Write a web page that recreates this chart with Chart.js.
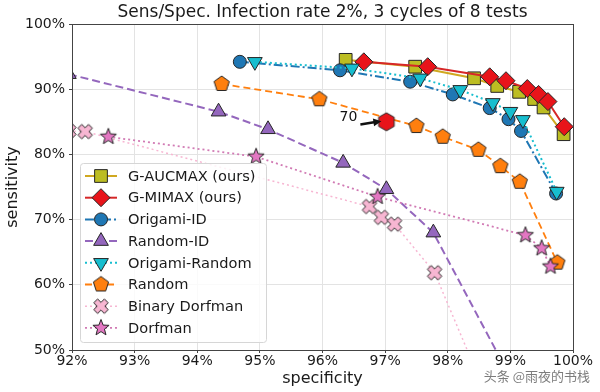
<!DOCTYPE html>
<html><head><meta charset="UTF-8"><title>Sens/Spec</title>
<script src="https://cdn.jsdelivr.net/npm/chart.js@4"></script>
<style>
body { margin: 0; background: #fff; }
#wrap { width: 600px; height: 392px; }
</style>
</head>
<body>
<div id="wrap"><canvas id="c" width="600" height="392"></canvas></div>
<script>
// x = specificity (%), y = sensitivity (%)
const aucmaxSpec = [96.37, 97.48, 98.42, 98.79, 99.14, 99.38, 99.53, 99.85];
const aucmaxSens = [94.5, 93.45, 91.67, 90.5, 89.6, 88.5, 87.2, 83.1];
const mimaxSpec = [96.66, 97.68, 98.67, 98.93, 99.27, 99.45, 99.6, 99.86];
const mimaxSens = [94.2, 93.45, 91.9, 91.3, 90.1, 89.2, 88.1, 84.25];
const origamiIdSpec = [94.68, 96.28, 97.4, 98.08, 98.67, 98.97, 99.17, 99.73];
const origamiIdSens = [94.2, 92.9, 91.15, 89.2, 87.1, 85.4, 83.6, 74.0];
const randomIdSpec = [91.95, 94.34, 95.13, 96.33, 97.02, 97.77, 99.0];
const randomIdSens = [92.3, 86.55, 83.85, 78.7, 74.65, 68.0, 45.8];
const origamiRandSpec = [94.92, 96.47, 97.56, 98.2, 98.72, 99.0, 99.2, 99.74];
const origamiRandSens = [94.2, 93.2, 91.67, 89.9, 87.9, 86.55, 85.3, 74.3];
const randomSpec = [94.39, 95.95, 97.5, 97.92, 98.49, 98.84, 99.15, 99.75];
const randomSens = [90.8, 88.45, 84.35, 82.7, 80.7, 78.2, 75.8, 63.4];
const binDorfSpec = [91.95, 92.21, 96.75, 96.94, 97.15, 97.79, 98.5];
const binDorfSens = [83.6, 83.5, 72.0, 70.35, 69.3, 61.85, 45.7];
const dorfSpec = [92.58, 94.94, 96.88, 99.24, 99.5, 99.64];
const dorfSens = [82.7, 79.65, 73.5, 67.6, 65.6, 62.8];
const markedSpec = [97.02];
const markedSens = [85.0];
const markedLabel = '70';

const xTicks = [92, 93, 94, 95, 96, 97, 98, 99, 100];
const yTicks = [50, 60, 70, 80, 90, 100];

const FONT = 'DejaVu Sans';
const EDGE = '#262626';

function pts(xs, ys) { return xs.map((x, i) => ({ x: x, y: ys[i] })); }

// custom filled markers on small canvases
function shape(r, fill, path) {
  const s = Math.ceil(r * 2 + 4);
  const cv = document.createElement('canvas');
  cv.width = s; cv.height = s;
  const c = cv.getContext('2d');
  c.translate(s / 2, s / 2);
  c.beginPath();
  path(c);
  c.closePath();
  c.fillStyle = fill; c.fill();
  c.lineWidth = 1; c.strokeStyle = EDGE; c.stroke();
  return cv;
}
function polygon(n, r) {
  return c => {
    for (let i = 0; i < n; i++) {
      const a = -Math.PI / 2 + i * 2 * Math.PI / n;
      c.lineTo(Math.cos(a) * r, Math.sin(a) * r);
    }
  };
}
function starPath(ro, ri) {
  return c => {
    for (let i = 0; i < 10; i++) {
      const a = -Math.PI / 2 + i * Math.PI / 5;
      const r = i % 2 ? ri : ro;
      c.lineTo(Math.cos(a) * r, Math.sin(a) * r);
    }
  };
}
function xPath(t, L) {
  const p = [[-t,-L],[t,-L],[t,-t],[L,-t],[L,t],[t,t],[t,L],[-t,L],[-t,t],[-L,t],[-L,-t],[-t,-t]];
  const k = Math.SQRT1_2;
  return c => p.forEach(([a, b]) => c.lineTo((a - b) * k, (a + b) * k));
}

const pentagon = shape(8, '#ff7f0e', polygon(5, 8));
const hexagon = shape(9, '#e8141a', polygon(6, 9));
const xMark = shape(8, '#f7b6d2', xPath(2.7, 7.5));
const star = shape(9, '#e377c2', starPath(8.5, 3.6));

const series = [
  { label: 'G-AUCMAX (ours)', xs: aucmaxSpec, ys: aucmaxSens, line: '#d0a820', fill: '#bcbd22', dash: [], lw: 2, style: 'rect', r: 9, rot: 0 },
  { label: 'G-MIMAX (ours)', xs: mimaxSpec, ys: mimaxSens, line: '#d62728', fill: '#e8141a', dash: [], lw: 2, style: 'rectRot', r: 9, rot: 0 },
  { label: 'Origami-ID', xs: origamiIdSpec, ys: origamiIdSens, line: '#1f77b4', fill: '#1f77b4', dash: [9, 3, 2, 3], lw: 2, style: 'circle', r: 6.5, rot: 0 },
  { label: 'Random-ID', xs: randomIdSpec, ys: randomIdSens, line: '#9467bd', fill: '#9467bd', dash: [8, 4], lw: 2, style: 'triangle', r: 8.5, rot: 0 },
  { label: 'Origami-Random', xs: origamiRandSpec, ys: origamiRandSens, line: '#17becf', fill: '#17becf', dash: [2, 3], lw: 2, style: 'triangle', r: 8.5, rot: 180 },
  { label: 'Random', xs: randomSpec, ys: randomSens, line: '#ff7f0e', fill: '#ff7f0e', dash: [7, 4], lw: 1.8, style: pentagon, r: 8, rot: 0 },
  { label: 'Binary Dorfman', xs: binDorfSpec, ys: binDorfSens, line: '#f7b6d2', fill: '#f7b6d2', dash: [2, 3], lw: 1.5, style: xMark, r: 8, rot: 0 },
  { label: 'Dorfman', xs: dorfSpec, ys: dorfSens, line: '#d17ab4', fill: '#e377c2', dash: [2, 3], lw: 1.8, style: star, r: 8, rot: 0 }
];

const datasets = series.map((s, i) => ({
  label: s.label,
  data: pts(s.xs, s.ys),
  showLine: true,
  borderColor: s.line,
  borderWidth: s.lw,
  borderDash: s.dash,
  pointStyle: s.style,
  pointRadius: s.r,
  pointRotation: s.rot,
  pointBackgroundColor: s.fill,
  pointBorderColor: EDGE,
  pointBorderWidth: 1,
  clip: 0,
  order: 20 - i
}));
datasets.push({
  label: markedLabel,
  data: pts(markedSpec, markedSens),
  showLine: false,
  pointStyle: hexagon,
  pointRadius: 9,
  clip: 0,
  order: 0
});

const frame = {
  id: 'frame',
  afterDatasetsDraw(chart) {
    const { ctx, chartArea: a } = chart;
    ctx.save();
    ctx.strokeStyle = '#444';
    ctx.lineWidth = 1;
    ctx.strokeRect(Math.round(a.left) + 0.5, Math.round(a.top) + 0.5, Math.round(a.right - a.left), Math.round(a.bottom - a.top));

    // "70" annotation with arrow
    const p = chart.getDatasetMeta(series.length).data[0];
    ctx.fillStyle = '#111';
    ctx.font = '14px ' + FONT;
    ctx.textAlign = 'center';
    ctx.textBaseline = 'middle';
    ctx.fillText(markedLabel, p.x - 38, p.y - 4);
    const x0 = p.x - 26, y0 = p.y + 2.6, x1 = p.x - 5, y1 = p.y - 0.6;
    const ang = Math.atan2(y1 - y0, x1 - x0);
    ctx.strokeStyle = '#111';
    ctx.lineWidth = 2.5;
    ctx.beginPath(); ctx.moveTo(x0, y0);
    ctx.lineTo(x1 - 6 * Math.cos(ang), y1 - 6 * Math.sin(ang)); ctx.stroke();
    ctx.beginPath();
    ctx.moveTo(x1, y1);
    ctx.lineTo(x1 - 8 * Math.cos(ang) + 4 * Math.sin(ang), y1 - 8 * Math.sin(ang) - 4 * Math.cos(ang));
    ctx.lineTo(x1 - 8 * Math.cos(ang) - 4 * Math.sin(ang), y1 - 8 * Math.sin(ang) + 4 * Math.cos(ang));
    ctx.closePath(); ctx.fill();

    // legend box
    const bx = 80, by = 163, bw = 186, bh = 179;
    ctx.beginPath();
    ctx.roundRect(bx + 0.5, by + 0.5, bw, bh, 3);
    ctx.fillStyle = 'rgba(255,255,255,0.82)';
    ctx.fill();
    ctx.strokeStyle = '#d6d6d6';
    ctx.lineWidth = 1;
    ctx.stroke();
    series.forEach((s, i) => {
      const y = by + 13 + i * 21.7;
      ctx.setLineDash(s.dash);
      ctx.strokeStyle = s.line;
      ctx.lineWidth = s.lw;
      ctx.beginPath(); ctx.moveTo(85, y); ctx.lineTo(117, y); ctx.stroke();
      ctx.setLineDash([]);
      ctx.fillStyle = s.fill;
      ctx.strokeStyle = EDGE;
      ctx.lineWidth = 1;
      Chart.helpers.drawPoint(ctx, { pointStyle: s.style, radius: s.r, rotation: s.rot, borderWidth: 1 }, 101, y);
      ctx.fillStyle = '#1a1a1a';
      ctx.font = '14.6px ' + FONT;
      ctx.textAlign = 'left';
      ctx.textBaseline = 'middle';
      ctx.fillText(s.label, 128, y + 1);
    });

    // watermark
    ctx.font = '13px "Noto Sans CJK SC"';
    ctx.fillStyle = 'rgba(80,80,80,0.75)';
    ctx.textAlign = 'right';
    ctx.fillText('头条 @雨夜的书栈', 590, 376);
    ctx.restore();
  }
};

new Chart(document.getElementById('c'), {
  type: 'scatter',
  data: { datasets: datasets },
  options: {
    responsive: false,
    animation: false,
    events: [],
    layout: { padding: { left: 0, right: 27, top: 0, bottom: 0 } },
    plugins: {
      legend: { display: false },
      tooltip: { enabled: false },
      title: {
        display: true,
        fullSize: false,
        text: 'Sens/Spec. Infection rate 2%, 3 cycles of 8 tests',
        color: '#1a1a1a',
        font: { family: FONT, size: 17, weight: 'normal' },
        padding: { top: 2, bottom: 1.6 }
      }
    },
    scales: {
      x: {
        type: 'linear', min: 92, max: 100,
        afterBuildTicks: s => { s.ticks = xTicks.map(v => ({ value: v })); },
        afterFit: s => { s.height = 42; },
        ticks: { callback: v => v + '%', color: '#1a1a1a', font: { family: FONT, size: 14 }, padding: 0, maxRotation: 0 },
        grid: { color: '#e3e3e3', tickLength: 3, tickColor: '#444' },
        border: { color: '#444' },
        title: { display: true, text: 'specificity', color: '#1a1a1a', font: { family: FONT, size: 16 }, padding: { top: 0, bottom: 4 } }
      },
      y: {
        type: 'linear', min: 50, max: 100,
        afterBuildTicks: s => { s.ticks = yTicks.map(v => ({ value: v })); },
        afterFit: s => { s.width = 72; },
        ticks: { callback: v => v + '%', color: '#1a1a1a', font: { family: FONT, size: 14 }, padding: 4 },
        grid: { color: '#e3e3e3', tickLength: 3, tickColor: '#444' },
        border: { color: '#444' },
        title: { display: true, text: 'sensitivity', color: '#1a1a1a', font: { family: FONT, size: 16 }, padding: { top: 3, bottom: 0 } }
      }
    }
  },
  plugins: [frame]
});
</script>
</body></html>
